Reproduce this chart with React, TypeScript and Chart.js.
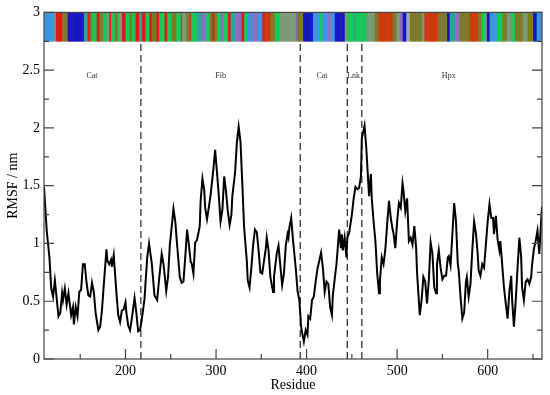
import React, { useEffect, useRef } from "react";
import { Chart, registerables } from "chart.js";

Chart.register(...registerables);

// RMSF profile (residue, nm)
const residues = [
  110, 113, 116, 118, 120, 122, 126, 128, 130, 131, 133, 135, 137, 140, 142, 143, 145, 147, 149, 151,
  153, 155, 157, 159, 161, 163, 165, 167, 170, 172, 174, 176, 179, 180, 182, 184, 185, 187, 188, 190,
  192, 194, 196, 198, 200, 201, 203, 205, 207, 210, 212, 214, 216, 218, 221, 224, 226, 229, 232, 235,
  237, 240, 242, 245, 247, 249, 251, 253, 255, 257, 260, 262, 264, 266, 268, 270, 272, 273, 275, 277,
  279, 282, 283, 285, 287, 288, 290, 292, 294, 297, 299, 301, 303, 305, 307, 309, 311, 313, 315, 317,
  318, 321, 323, 325, 327, 329, 331, 334, 335, 337, 339, 341, 343, 345, 347, 349, 351, 353, 355, 356,
  358, 360, 363, 364, 367, 369, 371, 373, 375, 377, 379, 380, 381, 383, 385, 388, 390, 392, 394, 395,
  397, 399, 401, 402, 404, 406, 408, 410, 412, 414, 416, 418, 420, 422, 424, 426, 428, 429, 431, 433,
  435, 436, 438, 439, 440, 442, 444, 445, 447, 450, 452, 454, 456, 458, 460, 461, 464, 466, 469, 471,
  472, 474, 476, 478, 480, 481, 483, 485, 487, 489, 491, 493, 495, 496, 498, 500, 502, 504, 506, 507,
  509, 511, 513, 515, 517, 519, 521, 522, 525, 527, 529, 531, 533, 535, 537, 539, 541, 543, 544, 546,
  548, 550, 552, 554, 556, 557, 559, 561, 563, 565, 567, 568, 570, 572, 574, 576, 577, 579, 581, 583,
  585, 587, 589, 590, 592, 594, 596, 598, 600, 602, 604, 606, 607, 609, 611, 613, 614, 616, 618, 620,
  622, 624, 626, 627, 629, 631, 633, 635, 637, 638, 640, 642, 644, 646, 648, 649, 651, 653, 655, 657,
  659, 660,
];
const rmsf = [
  1.49, 1.11, 0.88, 0.61, 0.54, 0.68, 0.37, 0.40, 0.57, 0.51, 0.61, 0.47, 0.57, 0.38, 0.45, 0.30, 0.45, 0.37, 0.58, 0.60,
  0.82, 0.82, 0.66, 0.55, 0.54, 0.66, 0.58, 0.40, 0.25, 0.28, 0.42, 0.64, 0.95, 0.85, 0.82, 0.86, 0.80, 0.90, 0.79, 0.57,
  0.38, 0.32, 0.42, 0.43, 0.49, 0.40, 0.29, 0.25, 0.35, 0.53, 0.40, 0.24, 0.25, 0.34, 0.52, 0.88, 1.00, 0.83, 0.55, 0.51,
  0.68, 0.91, 0.82, 0.59, 0.71, 0.99, 1.14, 1.30, 1.19, 0.99, 0.71, 0.66, 0.67, 0.88, 1.12, 0.99, 0.84, 0.83, 0.74, 1.01,
  1.03, 1.15, 1.37, 1.56, 1.46, 1.31, 1.21, 1.31, 1.42, 1.64, 1.81, 1.62, 1.42, 1.19, 1.29, 1.58, 1.45, 1.28, 1.16, 1.25,
  1.41, 1.61, 1.87, 2.01, 1.88, 1.52, 1.14, 0.85, 0.68, 0.62, 0.79, 0.99, 1.12, 1.10, 0.94, 0.75, 0.74, 0.85, 0.96, 1.05,
  0.94, 0.71, 0.58, 0.71, 0.91, 0.98, 0.81, 0.64, 0.74, 0.98, 1.08, 1.05, 1.14, 1.22, 1.03, 0.79, 0.59, 0.51, 0.28, 0.23,
  0.15, 0.25, 0.21, 0.37, 0.35, 0.51, 0.54, 0.67, 0.78, 0.85, 0.92, 0.79, 0.58, 0.67, 0.65, 0.45, 0.38, 0.55, 0.69, 0.82,
  1.02, 1.12, 0.96, 1.08, 0.94, 1.05, 0.88, 1.05, 1.09, 1.25, 1.39, 1.49, 1.47, 1.48, 1.58, 1.91, 2.02, 1.82, 1.41, 1.60,
  1.39, 1.19, 1.02, 0.74, 0.57, 0.68, 0.88, 0.82, 0.95, 1.17, 1.37, 1.22, 1.12, 1.09, 0.96, 1.19, 1.35, 1.31, 1.52, 1.46,
  1.28, 1.39, 1.02, 1.05, 0.99, 1.15, 0.96, 0.75, 0.38, 0.51, 0.71, 0.67, 0.48, 0.68, 1.01, 0.91, 0.62, 0.57, 0.82, 0.94,
  0.79, 0.69, 0.72, 0.72, 0.88, 0.89, 0.81, 1.08, 1.35, 1.19, 0.82, 0.77, 0.54, 0.35, 0.40, 0.67, 0.71, 0.54, 0.65, 0.94,
  1.19, 1.09, 0.91, 0.77, 0.72, 0.82, 0.79, 0.99, 1.19, 1.34, 1.22, 1.22, 1.08, 1.24, 1.03, 0.94, 1.02, 0.82, 0.62, 0.48,
  0.35, 0.59, 0.72, 0.51, 0.28, 0.51, 0.79, 1.05, 0.88, 0.62, 0.51, 0.67, 0.69, 0.65, 0.71, 0.81, 0.95, 1.02, 1.11, 0.91,
  1.19, 1.32,
];

// Domain boundaries and names
const boundaryResidues = [217, 393, 445, 461];
const domainNames = ["Cat", "Fib", "Cat", "Lnk", "Hpx"];
const domainCenters = [163, 305, 417, 452, 557];

// Per-residue structure band: segment start residue + class code
const bandStarts = [
  110, 122, 124, 131, 137, 155, 159, 161, 164, 169, 172, 176, 180, 183, 185, 189, 192, 194, 197, 201,
  205, 208, 212, 216, 219, 223, 227, 230, 235, 238, 241, 244, 247, 252, 257, 262, 263, 268, 272, 273,
  279, 285, 290, 294, 297, 299, 302, 306, 309, 314, 317, 322, 329, 332, 336, 341, 347, 352, 355, 361,
  366, 371, 389, 390, 397, 408, 415, 418, 424, 428, 432, 443, 446, 453, 455, 467, 476, 480, 496, 500,
  504, 507, 511, 515, 528, 531, 546, 556, 559, 565, 570, 581, 590, 594, 598, 600, 603, 611, 617, 622,
  627, 631, 640, 645, 651, 655,
];
const bandCodes = [
  "l", "y", "r", "o", "b", "t", "r", "o", "g", "r", "o", "g", "y", "r", "g", "o", "g", "y", "r", "g",
  "o", "g", "r", "t", "r", "g", "r", "o", "r", "g", "g", "r", "g", "o", "g", "r", "y", "o", "r", "g",
  "t", "p", "g", "o", "r", "o", "g", "p", "g", "r", "t", "p", "r", "g", "l", "p", "l", "r", "n", "o",
  "g", "y", "p", "o", "b", "l", "g", "l", "p", "l", "b", "y", "g", "t", "g", "y", "o", "n", "o", "y",
  "p", "b", "k", "o", "y", "n", "o", "b", "t", "p", "o", "n", "o", "g", "y", "b", "l", "g", "o", "y",
  "g", "o", "y", "o", "b", "l",
];
const bandRange = [110, 660];
const bandBottom = 2.75;
const bandTop = 3;

const palette: Record<string, string> = {
  l: "#3d96e0",
  y: "#7a9a78",
  r: "#e01a1a",
  o: "#7e7a2a",
  b: "#1818c0",
  t: "#2aa890",
  g: "#18c858",
  p: "#8a70c0",
  n: "#cc3a10",
  k: "#a0a8a0",
};

const SERIF = "'Liberation Serif', 'Times New Roman', 'DejaVu Serif', serif";

function codeFor(r: number): string {
  let c = bandCodes[0];
  for (let i = 0; i < bandStarts.length; i++) {
    if (r >= bandStarts[i]) c = bandCodes[i];
    else break;
  }
  return c;
}

const framePlugin = {
  id: "frameTicks",
  afterDatasetsDraw(chart: any) {
    const { ctx, chartArea } = chart;
    const xs = chart.scales.x;
    const ys = chart.scales.y;
    const { left, right, top, bottom } = chartArea;
    ctx.save();
    // domain labels
    ctx.fillStyle = "#333";
    ctx.font = `8px ${SERIF}`;
    ctx.textAlign = "center";
    ctx.textBaseline = "middle";
    domainNames.forEach((n, i) => {
      ctx.fillText(n, xs.getPixelForValue(domainCenters[i]), ys.getPixelForValue(2.45));
    });
    // frame
    ctx.strokeStyle = "#444";
    ctx.lineWidth = 1.2;
    ctx.strokeRect(left, top, right - left, bottom - top);
    // inward ticks
    ctx.beginPath();
    xs.ticks.forEach((t: any) => {
      const px = xs.getPixelForValue(t.value);
      const len = t.value % 100 === 0 ? 10 : 5;
      ctx.moveTo(px, bottom);
      ctx.lineTo(px, bottom - len);
    });
    ys.ticks.forEach((t: any) => {
      const py = ys.getPixelForValue(t.value);
      const len = Number.isInteger(Math.round(t.value * 100) / 50) ? 10 : 5;
      ctx.moveTo(left, py);
      ctx.lineTo(left + len, py);
      ctx.moveTo(right, py);
      ctx.lineTo(right - len, py);
    });
    ctx.stroke();
    ctx.restore();
  },
};

export default function App() {
  const ref = useRef<HTMLCanvasElement | null>(null);
  useEffect(() => {
    document.body.style.margin = "0";
    if (!ref.current) return;
    const bandData: any[] = [];
    const bandColors: string[] = [];
    for (let r = bandRange[0]; r <= bandRange[1]; r++) {
      bandData.push({ x: r, y: [bandBottom, bandTop] });
      bandColors.push(palette[codeFor(r)]);
    }
    const lineData = residues.map((r, i) => ({ x: r, y: rmsf[i] }));
    const dashed = boundaryResidues.map((b) => ({
      type: "line" as const,
      data: [
        { x: b, y: 0 },
        { x: b, y: bandBottom },
      ],
      borderColor: "#333",
      borderWidth: 1.3,
      borderDash: [7, 4],
      pointRadius: 0,
      order: 2,
    }));
    const chart = new Chart(ref.current, {
      type: "bar",
      data: {
        datasets: [
          {
            type: "bar",
            data: bandData,
            backgroundColor: bandColors,
            borderWidth: 0,
            barPercentage: 1,
            categoryPercentage: 1,
            grouped: false,
            order: 3,
          } as any,
          ...dashed,
          {
            type: "line",
            data: lineData,
            borderColor: "#000",
            borderWidth: 2,
            pointRadius: 0,
            tension: 0,
            order: 1,
          } as any,
        ],
      },
      options: {
        animation: false,
        responsive: false,
        maintainAspectRatio: false,
        layout: { padding: { top: 9, right: 8, left: 0, bottom: 0 } },
        plugins: { legend: { display: false }, tooltip: { enabled: false } },
        scales: {
          x: {
            type: "linear",
            min: 110,
            max: 660,
            offset: false,
            grid: { display: false, drawTicks: false },
            border: { display: false },
            afterBuildTicks: (s: any) => {
              const t = [];
              for (let v = 150; v <= 650; v += 50) t.push({ value: v });
              s.ticks = t;
            },
            afterFit: (s: any) => {
              s.height = 36;
            },
            ticks: {
              autoSkip: false,
              maxRotation: 0,
              padding: 4,
              color: "#000",
              font: { family: SERIF, size: 14 },
              callback: (v: any) => (v % 100 === 0 ? String(v) : ""),
            },
            title: {
              display: true,
              text: "Residue",
              color: "#000",
              font: { family: SERIF, size: 14 },
              padding: { top: 0, bottom: 1 },
            },
          },
          y: {
            type: "linear",
            min: 0,
            max: 3,
            grid: { display: false, drawTicks: false },
            border: { display: false },
            afterBuildTicks: (s: any) => {
              const t = [];
              for (let i = 0; i <= 12; i++) t.push({ value: i * 0.25 });
              s.ticks = t;
            },
            afterFit: (s: any) => {
              s.width = 44;
            },
            ticks: {
              autoSkip: false,
              padding: 4,
              color: "#000",
              font: { family: SERIF, size: 14 },
              callback: (v: any) => (Number.isInteger(Math.round(v * 100) / 50) ? String(Math.round(v * 100) / 100) : ""),
            },
            title: {
              display: true,
              text: "RMSF / nm",
              color: "#000",
              font: { family: SERIF, size: 14 },
              padding: { top: 5, bottom: 0 },
            },
          },
        },
      },
      plugins: [framePlugin],
    });
    return () => chart.destroy();
  }, []);
  return (
    <div style={{ width: 550, height: 395 }}>
      <canvas ref={ref} width={550} height={395} style={{ display: "block" }} />
    </div>
  );
}
